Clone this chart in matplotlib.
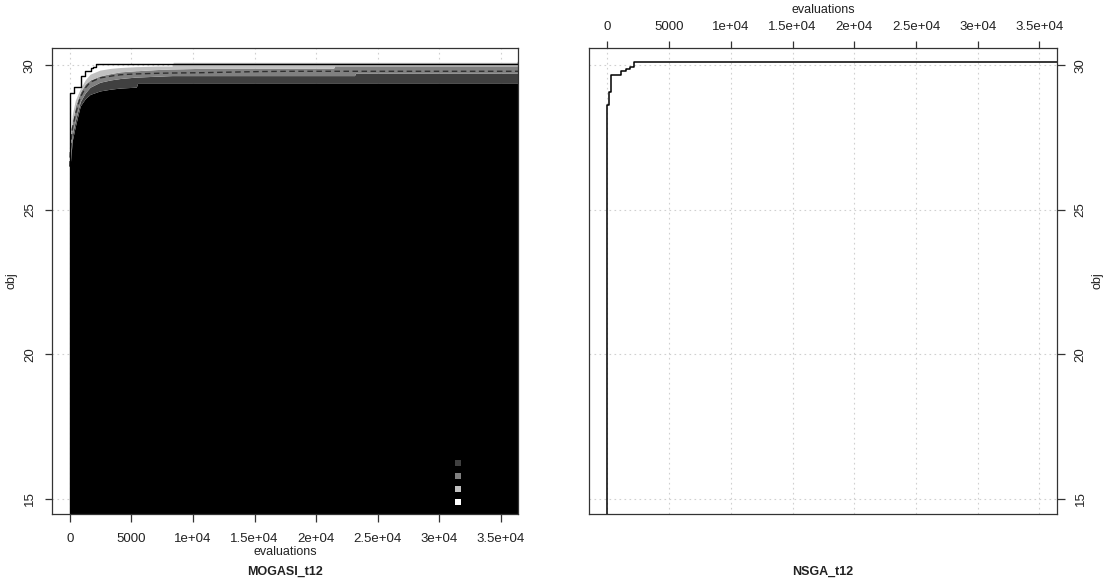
import matplotlib
matplotlib.use('Agg')
import matplotlib.pyplot as plt

plt.rcParams['font.family'] = ['Liberation Sans', 'DejaVu Sans']

# Stuetzstellen (evaluations) fuer die Quantil-Baender von MOGASI_t12
evals = [0, 40, 200, 450, 850, 1250, 1650, 2450, 3300, 4100, 5400, 5500,
         7100, 8300, 8400, 10600, 15400, 17900, 21400, 21500, 23100, 23200, 36400]
q_black = [26.3, 26.6, 27.4, 27.9, 28.6, 28.85, 29.0, 29.12, 29.18, 29.22, 29.25, 29.38,
           29.38, 29.38, 29.38, 29.38, 29.38, 29.38, 29.38, 29.38, 29.38, 29.38, 29.38]
q_dark = [26.4, 26.8, 27.6, 28.1, 28.75, 29.05, 29.25, 29.42, 29.5, 29.55, 29.6, 29.6,
          29.63, 29.65, 29.65, 29.65, 29.65, 29.65, 29.65, 29.65, 29.65, 29.73, 29.73]
q_median = [26.5, 27.0, 27.8, 28.3, 28.9, 29.22, 29.42, 29.57, 29.63, 29.68, 29.71, 29.71,
            29.73, 29.74, 29.74, 29.75, 29.79, 29.8, 29.8, 29.8, 29.8, 29.8, 29.8]
q_grey = [26.6, 27.2, 28.0, 28.6, 29.08, 29.36, 29.5, 29.64, 29.72, 29.78, 29.82, 29.82,
          29.86, 29.88, 29.88, 29.9, 29.9, 29.9, 29.9, 29.99, 29.99, 29.99, 29.99]
q_light = [26.7, 27.5, 28.3, 28.8, 29.2, 29.5, 29.7, 29.84, 29.9, 29.93, 29.96, 29.96,
           29.98, 29.98, 30.11, 30.11, 30.11, 30.11, 30.11, 30.11, 30.11, 30.11, 30.11]

# Bestwert-Treppe (MOGASI_t12)
best_x = [0, 0, 30, 250, 300, 900, 1250, 1700, 1900, 2150, 36400]
best_y = [10, 28.3, 29.05, 29.05, 29.27, 29.65, 29.81, 29.90, 29.96, 30.04, 30.11]

# Bestwert-Treppe (NSGA_t12)
nsga_x = [0, 0, 100, 320, 1080, 1540, 1810, 2160, 36400]
nsga_y = [10, 28.63, 29.07, 29.67, 29.81, 29.87, 29.96, 30.11, 30.11]

x_ticks = [0, 5000, 10000, 15000, 20000, 25000, 30000, 35000]
x_labels = ['0', '5000', '1e+04', '1.5e+04', '2e+04', '2.5e+04', '3e+04', '3.5e+04']
y_ticks = [15, 20, 25, 30]

band_colors = ['#404040', '#808080', '#c0c0c0', '#ffffff']

fig = plt.figure(figsize=(11.07, 5.83), dpi=100)
W, H = 1107, 583
ax1 = fig.add_axes([51.7 / W, 1 - 514 / H, 466.6 / W, 465.7 / H])
ax2 = fig.add_axes([589.3 / W, 1 - 514 / H, 467.4 / W, 465.7 / H])

for ax in (ax1, ax2):
    ax.set_xlim(-1470, 36400)
    ax.set_ylim(14.48, 30.595)
    ax.set_xticks(x_ticks)
    ax.set_yticks(y_ticks)
    for t in x_ticks:
        ax.axvline(t, color='#d0d0d0', lw=0.8, ls=(0, (1.5, 3)), zorder=0)
    for t in y_ticks:
        ax.axhline(t, color='#d0d0d0', lw=0.8, ls=(0, (1.5, 3)), zorder=0)
    for s in ax.spines.values():
        s.set_color('#333333')
        s.set_linewidth(0.9)
        s.set_zorder(10)
    ax.tick_params(color='#333333', labelcolor='#222222', length=5.4, width=0.9,
                   labelsize=9.5)

# linkes Panel: Quantil-Baender
ax1.fill_between(evals, 10, q_black, color='black', lw=0, zorder=1)
ax1.fill_between(evals, q_black, q_dark, color=band_colors[0], lw=0, zorder=1)
ax1.fill_between(evals, q_dark, q_grey, color=band_colors[1], lw=0, zorder=1)
ax1.fill_between(evals, q_grey, q_light, color=band_colors[2], lw=0, zorder=1)
ax1.plot(evals, q_median, color='#303030', lw=1, ls=(0, (4, 2.5)), zorder=2)
ax1.plot(best_x, best_y, color='black', lw=1, drawstyle='steps-post', zorder=3)

ax1.set_xticklabels(x_labels)
ax1.set_yticklabels([str(t) for t in y_ticks], rotation=90, va='center')
ax1.tick_params(axis='x', pad=8)
ax1.tick_params(axis='y', pad=6)

# kleine Legende (Quadrate) unten rechts
for i, c in enumerate(band_colors):
    ax1.scatter([0.870], [0.1095 - i * 0.0279], marker='s', s=25, color=c,
                transform=ax1.transAxes, zorder=5, linewidths=0)

# rechtes Panel
ax2.plot(nsga_x, nsga_y, color='black', lw=1.1, drawstyle='steps-post', zorder=3)
ax2.xaxis.tick_top()
ax2.yaxis.tick_right()
ax2.set_xticklabels(x_labels)
ax2.set_yticklabels([str(t) for t in y_ticks], rotation=90, va='center')
ax2.tick_params(axis='x', pad=5.5)
ax2.tick_params(axis='y', pad=7.5)

# Beschriftungen
fig.text(285 / W, 1 - 552 / H, 'evaluations', ha='center', va='center', fontsize=9, color='#222222')
fig.text(285 / W, 1 - 572 / H, 'MOGASI_t12', ha='center', va='center', fontsize=9,
         fontweight='bold', color='#222222')
fig.text(12 / W, 1 - 281 / H, 'obj', ha='center', va='center', rotation=90, fontsize=9, color='#222222')
fig.text(823 / W, 1 - 10 / H, 'evaluations', ha='center', va='center', fontsize=9, color='#222222')
fig.text(823 / W, 1 - 572 / H, 'NSGA_t12', ha='center', va='center', fontsize=9,
         fontweight='bold', color='#222222')
fig.text(1097 / W, 1 - 281 / H, 'obj', ha='center', va='center', rotation=90, fontsize=9, color='#222222')

fig.savefig('out.png', dpi=100)
